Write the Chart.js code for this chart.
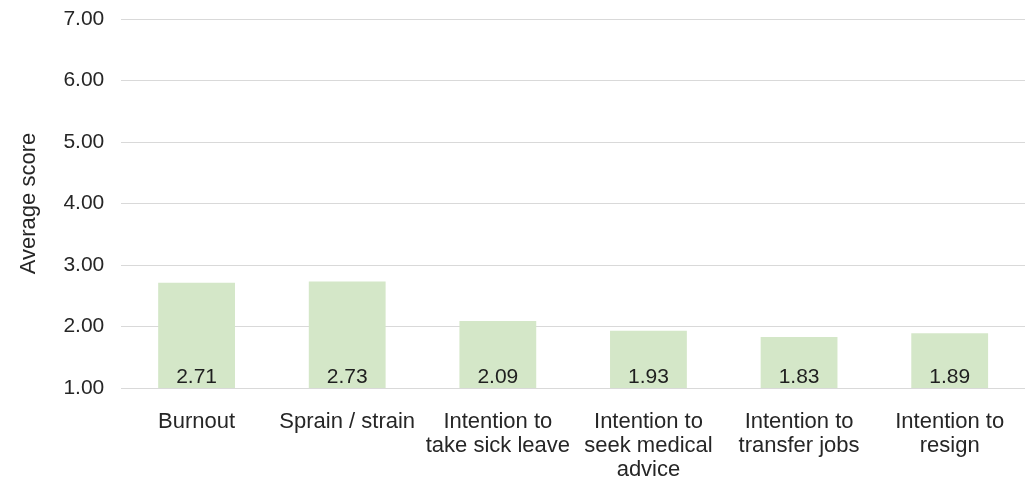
<!DOCTYPE html>
<html>
<head>
<meta charset="utf-8">
<script src="https://cdn.jsdelivr.net/npm/chart.js@4/dist/chart.umd.min.js"></script>
<style>
  html, body { margin: 0; padding: 0; background: #ffffff; }
  #wrap { width: 1030px; height: 482px; }
</style>
</head>
<body>
<div id="wrap"><canvas id="chart" width="1030" height="482"></canvas></div>
<script>
// Outcome categories (multi-line labels) and their average scores
const categories = [
  ["Burnout"],
  ["Sprain / strain"],
  ["Intention to", "take sick leave"],
  ["Intention to", "seek medical", "advice"],
  ["Intention to", "transfer jobs"],
  ["Intention to", "resign"]
];
const averageScores = [2.71, 2.73, 2.09, 1.93, 1.83, 1.89];
const yAxisTitle = "Average score";
const yMin = 1;
const yMax = 7;

const FONT = "'Liberation Sans', Arial, sans-serif";
const TEXT = "#262626";

// Writes each bar's value just above the bar's base
const valueLabels = {
  id: "valueLabels",
  afterDatasetsDraw(chart) {
    const ctx = chart.ctx;
    const meta = chart.getDatasetMeta(0);
    const yScale = chart.scales.y;
    const baseY = yScale.getPixelForValue(yMin);
    ctx.save();
    ctx.font = "21px " + FONT;
    ctx.fillStyle = "#1f1f1f";
    ctx.textAlign = "center";
    ctx.textBaseline = "middle";
    meta.data.forEach((bar, i) => {
      ctx.fillText(averageScores[i].toFixed(2), bar.x, baseY - 10.5);
    });
    ctx.restore();
  }
};

new Chart(document.getElementById("chart"), {
  type: "bar",
  data: {
    labels: categories,
    datasets: [{
      data: averageScores,
      backgroundColor: "#d4e7c8",
      borderWidth: 0,
      barPercentage: 0.51,
      categoryPercentage: 1.0
    }]
  },
  options: {
    responsive: false,
    animation: false,
    devicePixelRatio: 1,
    layout: { padding: { top: 19, right: 5, left: 16, bottom: 0 } },
    plugins: {
      legend: { display: false },
      tooltip: { enabled: false }
    },
    scales: {
      x: {
        grid: { display: false, drawTicks: false },
        border: { display: false },
        afterFit(scale) {
          scale.height = 94;
          scale.paddingTop = 0;
        },
        ticks: {
          color: TEXT,
          font: { family: FONT, size: 22, lineHeight: "24px" },
          padding: 22,
          maxRotation: 0,
          autoSkip: false
        }
      },
      y: {
        min: yMin,
        max: yMax,
        grid: { color: "#d9d9d9", lineWidth: 1, drawTicks: false },
        border: { display: false },
        afterFit(scale) {
          scale.paddingTop = 0;
          scale.paddingBottom = 0;
        },
        ticks: {
          stepSize: 1,
          color: TEXT,
          font: { family: FONT, size: 21 },
          padding: 17,
          callback: (v) => Number(v).toFixed(2)
        },
        title: {
          display: true,
          text: yAxisTitle,
          color: TEXT,
          font: { family: FONT, size: 22 },
          padding: { top: 0, bottom: 4 }
        }
      }
    }
  },
  plugins: [valueLabels]
});
</script>
</body>
</html>
